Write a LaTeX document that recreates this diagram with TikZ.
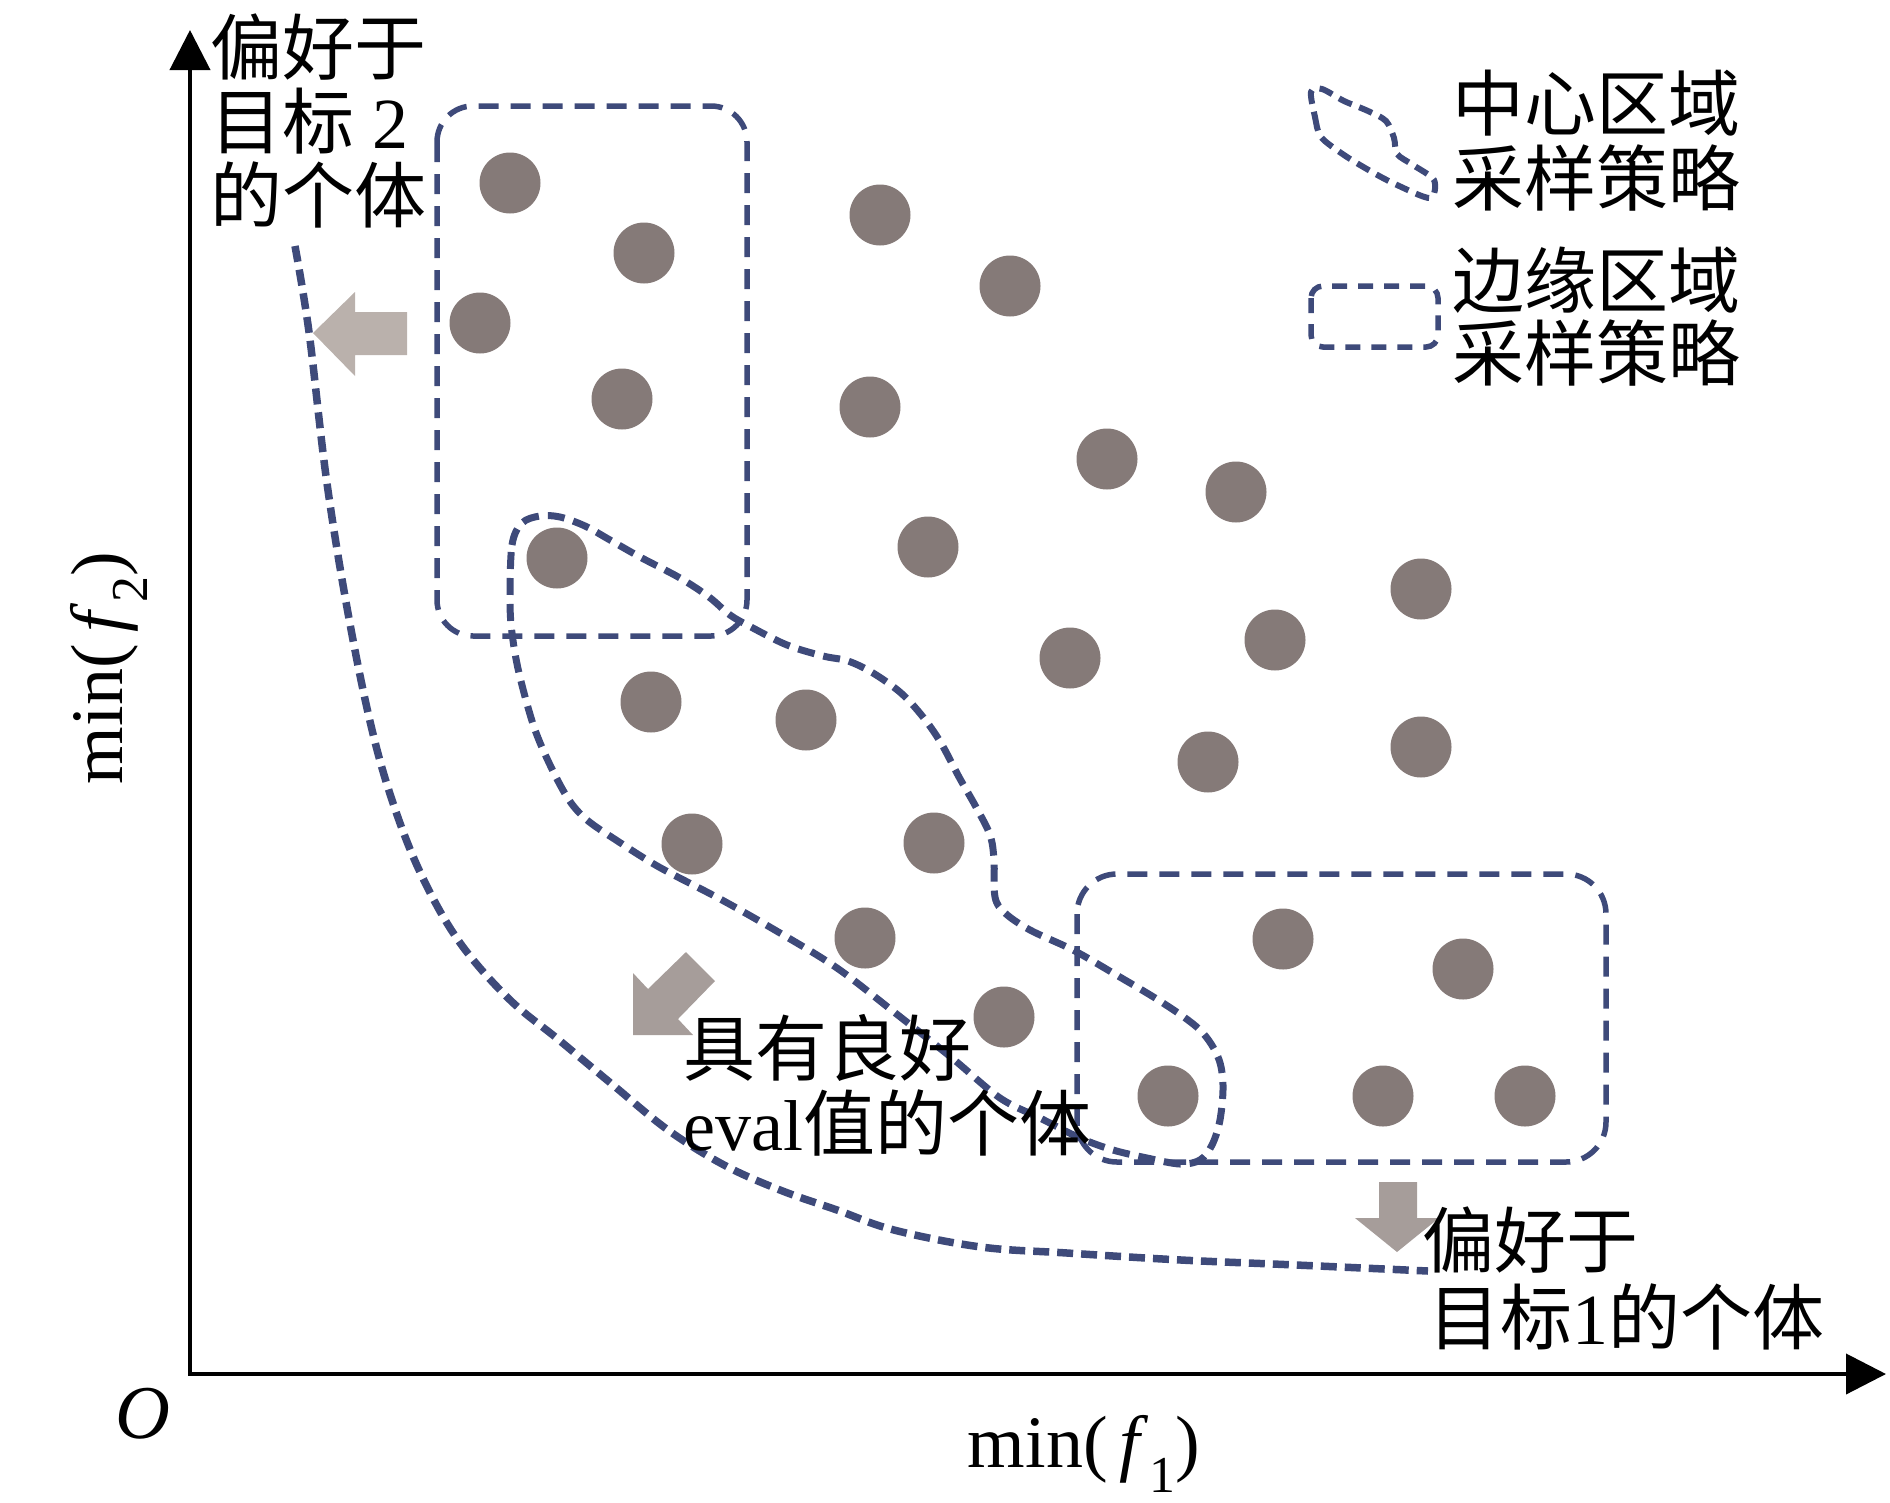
\documentclass[tikz,border=0pt]{standalone}
\usepackage{fontspec}
\setmainfont{Liberation Serif}
\newfontfamily\cjk{Noto Sans CJK SC}
\usetikzlibrary{arrows.meta}
\newcommand\romn[1]{{\rmfamily #1}}
\definecolor{dashblue}{RGB}{62,74,122}
\definecolor{dotgray}{RGB}{133,122,120}
\definecolor{arrowlight}{RGB}{186,177,172}
\definecolor{arrowdark}{RGB}{166,157,154}
\begin{document}
\begin{tikzpicture}[x=1pt,y=-1pt,
  dot/.style={fill=dotgray,draw=none},
  edgebox/.style={draw=dashblue,line width=5.5pt,dash pattern=on 20pt off 12pt},
  blobline/.style={draw=dashblue,line width=7pt,dash pattern=on 17pt off 9pt},
  curveline/.style={draw=dashblue,line width=7.5pt,dash pattern=on 16pt off 8pt},
  axisline/.style={line width=4pt,black},
  lbl/.style={anchor=west,inner sep=0pt,font=\cjk\fontsize{72}{75}\selectfont},
  axlbl/.style={inner sep=0pt,font=\rmfamily\fontsize{74}{80}\selectfont}
]
\useasboundingbox (0,0) rectangle (1890,1502);

% axes
\coordinate (O) at (190,1374);
\coordinate (ytip) at (190,30);
\coordinate (xtip) at (1886,1374);
\draw[axisline,{Triangle[length=40pt,width=40pt]}-{Triangle[length=40pt,width=40pt]}] (ytip) -- (O) -- (xtip);
\node[axlbl] (olbl) at (143,1414) {\fontsize{76}{80}\selectfont\textit{O}};
\node[axlbl,anchor=base] (xlbl) at (1084,1467) {min(\,\textit{f}\textsubscript{1})};
\node[axlbl,anchor=base,rotate=90] (ylbl) at (122,668) {min(\,\textit{f}\textsubscript{2})};

% edge boxes
\draw[edgebox,rounded corners=36pt] (437,106) rectangle (747,636);
\draw[edgebox,rounded corners=40pt] (1077,874) rectangle (1606,1162);

% central blob
\draw[blobline] plot[smooth cycle,tension=0.55] coordinates {
(510,600) (512,545) (522,523) (540,516) (560,517) (585,526) (610,540) (640,557)
(680,578) (709,597) (730,615) (751,627) (787,645) (823,656) (848,661) (873,673)
(901,693) (923,717) (941,743) (959,777) (976,807) (990,835) (994,860) (995,897)
(1005,913) (1030,930) (1073,950) (1113,973) (1163,1003) (1200,1030) (1218,1057)
(1223,1085) (1220,1120) (1212,1145) (1200,1160) (1180,1164) (1147,1158) (1113,1150)
(1080,1138) (1040,1118) (1000,1098) (952,1058) (894,1012) (837,968) (780,933)
(722,900) (659,867) (616,840) (587,820) (569,800) (551,767) (534,727) (519,673) (512,633)};

% big pareto curve
\draw[curveline] plot[smooth,tension=0.6] coordinates {
(295,246) (309,332) (326,476) (346,602) (369,717) (391,797) (420,872) (458,940)
(508,998) (559,1040) (613,1085) (668,1130) (724,1165) (780,1190) (837,1210)
(894,1230) (981,1247) (1067,1253) (1181,1260) (1296,1265) (1428,1271)};

% dots
\foreach \i/\x/\y in {1/510/183,2/644/253,3/480/323,4/622/399,5/880/215,6/1010/286,
  7/870/407,8/1107/459,9/1236/492,10/928/547,11/557/558,12/1421/589,13/1070/658,
  14/1275/640,15/651/702,16/806/720,17/1208/762,18/1421/747,19/692/844,20/934/843,
  21/865/938,22/1283/939,23/1463/969,24/1004/1017,25/1168/1096,26/1383/1096,27/1525/1096}
  \fill[dot] (\x,\y) circle[radius=30.5pt];

% gray arrows
\fill[arrowlight] (313,333) -- (355,292) -- (355,312) -- (407,312) -- (407,355) -- (355,355) -- (355,376) -- cycle;
\fill[arrowdark] (633,1035) -- (633,973) -- (648,989) -- (686,952) -- (715,981) -- (678,1019) -- (693,1035) -- cycle;
\fill[arrowdark] (1397,1252) -- (1355,1218) -- (1379,1218) -- (1379,1182) -- (1417,1182) -- (1417,1218) -- (1439,1218) -- cycle;

% labels
\node[lbl] (t2a) at (210,47) {偏好于};
\node[lbl] (t2b) at (210,121) {目标\romn{\ 2}};
\node[lbl] (t2c) at (210,195) {的个体};

\node[lbl] (eva) at (683,1048) {具有良好};
\node[lbl] (evb) at (683,1123) {\romn{eval}值的个体};

\node[lbl] (t1a) at (1422,1240) {偏好于};
\node[lbl] (t1b) at (1428,1317) {目标\romn{1}的个体};

% legend
\draw[blobline,line width=6pt,dash pattern=on 14pt off 8pt] plot[smooth cycle,tension=0.5] coordinates {
(1311,92) (1315,117) (1321,137) (1344,155) (1372,172) (1397,185) (1430,198)
(1434,180) (1413,165) (1397,154) (1394,138) (1386,121) (1368,111) (1344,101) (1322,89)};
\node[lbl] (lg1a) at (1452,103) {中心区域};
\node[lbl] (lg1b) at (1452,178) {采样策略};
\draw[edgebox,line width=5.5pt,dash pattern=on 15pt off 11pt,rounded corners=12pt] (1311,286) rectangle (1438,347);
\node[lbl] (lg2a) at (1452,280) {边缘区域};
\node[lbl] (lg2b) at (1452,353) {采样策略};
\end{tikzpicture}
\end{document}
